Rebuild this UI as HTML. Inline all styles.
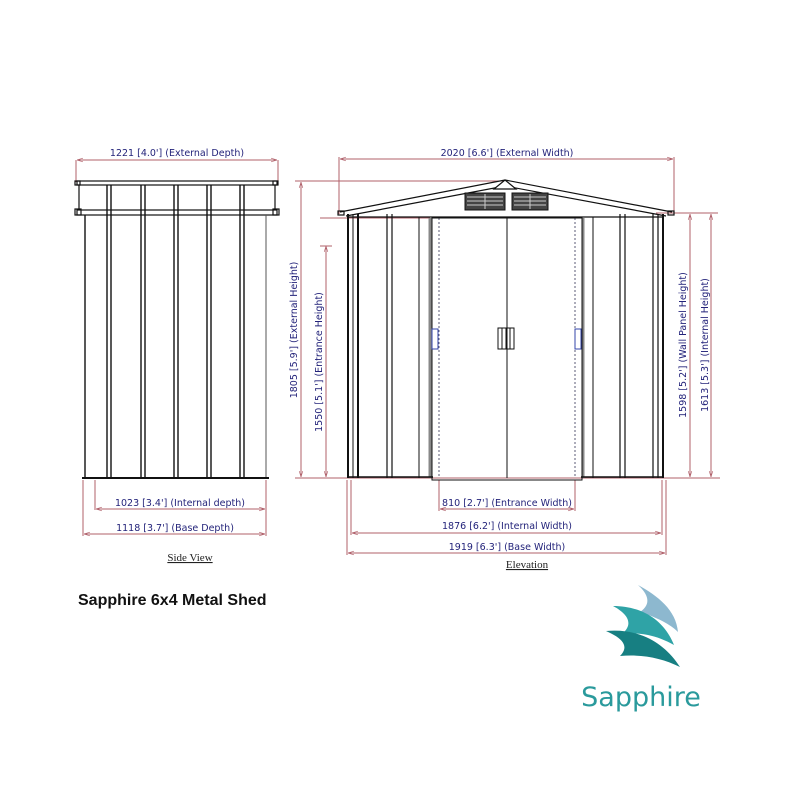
<!DOCTYPE html>
<html><head><meta charset="utf-8"><style>
html,body{margin:0;padding:0;background:#fff;}
svg{display:block;}
.d{font-family:"DejaVu Sans","Liberation Sans",sans-serif;font-size:9.5px;fill:#23237a;}
.r{stroke:#b0606a;stroke-width:1;fill:none;}
.k{stroke:#111;fill:none;}
</style></head><body>
<svg width="800" height="800" viewBox="0 0 800 800" xmlns="http://www.w3.org/2000/svg">
<defs>
<marker id="a" viewBox="0 0 10 10" refX="10" refY="5" markerWidth="6" markerHeight="6" orient="auto-start-reverse"><path d="M0,2 L10,5 L0,8" fill="none" stroke="#b0606a"/></marker>
</defs>
<!-- SIDE VIEW -->
<g class="r">
<line x1="76" y1="160" x2="76" y2="182"/><line x1="278" y1="160" x2="278" y2="182"/>
<line x1="77" y1="160" x2="277" y2="160" marker-start="url(#a)" marker-end="url(#a)"/>
<line x1="95" y1="480" x2="95" y2="510"/><line x1="266" y1="480" x2="266" y2="536"/><line x1="83" y1="480" x2="83" y2="536"/>
<line x1="96" y1="509" x2="265" y2="509" marker-start="url(#a)" marker-end="url(#a)"/>
<line x1="84" y1="534" x2="265" y2="534" marker-start="url(#a)" marker-end="url(#a)"/>
</g>
<text class="d" x="177" y="156" text-anchor="middle">1221 [4.0'] (External Depth)</text>
<text class="d" x="180" y="506" text-anchor="middle">1023 [3.4'] (Internal depth)</text>
<text class="d" x="175" y="531" text-anchor="middle">1118 [3.7'] (Base Depth)</text>
<g class="k" stroke-width="1.2">
<rect x="77" y="181" width="200" height="4"/>
<rect x="77" y="210" width="200" height="5"/>
<line x1="79" y1="185" x2="79" y2="210"/><line x1="275" y1="185" x2="275" y2="210"/>
<rect x="75" y="181" width="5" height="4"/><rect x="273" y="181" width="5" height="4"/>
<rect x="75" y="209" width="6" height="6"/><rect x="273" y="209" width="6" height="6"/>
</g>
<g stroke="#111" stroke-width="1.4">
<line x1="85" y1="215" x2="85" y2="478"/>
<line x1="107" y1="185" x2="107" y2="478"/><line x1="111" y1="185" x2="111" y2="478"/>
<line x1="141" y1="185" x2="141" y2="478"/><line x1="145" y1="185" x2="145" y2="478"/>
<line x1="174" y1="185" x2="174" y2="478"/><line x1="178" y1="185" x2="178" y2="478"/>
<line x1="207" y1="185" x2="207" y2="478"/><line x1="211" y1="185" x2="211" y2="478"/>
<line x1="240" y1="185" x2="240" y2="478"/><line x1="244" y1="185" x2="244" y2="478"/>
<line x1="266" y1="215" x2="266" y2="478" stroke="#555" stroke-width="1"/>
<line x1="82" y1="478" x2="269" y2="478" stroke-width="2"/>
</g>
<text x="190" y="561" text-anchor="middle" font-family="Liberation Serif,serif" font-size="11" fill="#222" text-decoration="underline">Side View</text>

<!-- ELEVATION -->
<g class="r">
<line x1="339" y1="157" x2="339" y2="214"/><line x1="674" y1="157" x2="674" y2="214"/>
<line x1="340" y1="159" x2="673" y2="159" marker-start="url(#a)" marker-end="url(#a)"/>
<line x1="295" y1="181" x2="505" y2="181"/>
<line x1="320" y1="218" x2="430" y2="218"/>
<line x1="656" y1="213" x2="718" y2="213"/>
<line x1="295" y1="478" x2="720" y2="478"/>
<line x1="301" y1="182" x2="301" y2="477" marker-start="url(#a)" marker-end="url(#a)"/>
<line x1="326" y1="246" x2="326" y2="477" marker-start="url(#a)" marker-end="url(#a)"/>
<line x1="320" y1="246" x2="332" y2="246"/>
<line x1="690" y1="214" x2="690" y2="477" marker-start="url(#a)" marker-end="url(#a)"/>
<line x1="711" y1="214" x2="711" y2="477" marker-start="url(#a)" marker-end="url(#a)"/>
<line x1="439" y1="480" x2="439" y2="511"/><line x1="575" y1="480" x2="575" y2="511"/>
<line x1="351" y1="480" x2="351" y2="535"/><line x1="662" y1="480" x2="662" y2="535"/>
<line x1="347" y1="480" x2="347" y2="555"/><line x1="666" y1="480" x2="666" y2="555"/>
<line x1="440" y1="509" x2="574" y2="509" marker-start="url(#a)" marker-end="url(#a)"/>
<line x1="352" y1="533" x2="661" y2="533" marker-start="url(#a)" marker-end="url(#a)"/>
<line x1="348" y1="553" x2="665" y2="553" marker-start="url(#a)" marker-end="url(#a)"/>
</g>
<text class="d" x="507" y="156" text-anchor="middle">2020 [6.6'] (External Width)</text>
<text class="d" x="507" y="506" text-anchor="middle">810 [2.7'] (Entrance Width)</text>
<text class="d" x="507" y="529" text-anchor="middle">1876 [6.2'] (Internal Width)</text>
<text class="d" x="507" y="550" text-anchor="middle">1919 [6.3'] (Base Width)</text>
<text class="d" transform="translate(297,330) rotate(-90)" text-anchor="middle">1805 [5.9'] (External Height)</text>
<text class="d" transform="translate(322,362) rotate(-90)" text-anchor="middle">1550 [5.1'] (Entrance Height)</text>
<text class="d" transform="translate(686,345) rotate(-90)" text-anchor="middle">1598 [5.2'] (Wall Panel Height)</text>
<text class="d" transform="translate(708,345) rotate(-90)" text-anchor="middle">1613 [5.3'] (Internal Height)</text>
<!-- roof -->
<g class="k" stroke-width="1.2">
<polyline points="340,212 505,180 672,212"/>
<polyline points="346,216 505,186 666,216"/>
<rect x="338" y="211" width="6" height="4"/><rect x="668" y="211" width="6" height="4"/>
<path d="M494,189 L505,180 L516,189 Z" fill="#fff"/>
<line x1="348" y1="217" x2="664" y2="217"/>
</g>
<g fill="#444" stroke="#111">
<rect x="465" y="193" width="40" height="17"/><rect x="512" y="193" width="36" height="17"/>
</g>
<g stroke="#ccc" stroke-width="1">
<line x1="467" y1="197" x2="503" y2="197"/><line x1="467" y1="201" x2="503" y2="201"/><line x1="467" y1="205" x2="503" y2="205"/>
<line x1="514" y1="197" x2="546" y2="197"/><line x1="514" y1="201" x2="546" y2="201"/><line x1="514" y1="205" x2="546" y2="205"/>
<line x1="485" y1="194" x2="485" y2="209"/><line x1="530" y1="194" x2="530" y2="209"/>
</g>
<!-- walls -->
<g stroke="#111">
<line x1="348" y1="214" x2="348" y2="478" stroke-width="2"/>
<line x1="353" y1="214" x2="353" y2="478" stroke-width="1"/>
<line x1="358" y1="214" x2="358" y2="478" stroke-width="2"/>
<line x1="387" y1="214" x2="387" y2="478" stroke-width="1.2"/>
<line x1="392" y1="214" x2="392" y2="478" stroke-width="1.2"/>
<line x1="419" y1="217" x2="419" y2="478" stroke-width="1"/>
<line x1="430" y1="218" x2="430" y2="478" stroke="#888" stroke-width="3"/>
<line x1="439" y1="218" x2="439" y2="478" stroke="#335" stroke-width="0.8" stroke-dasharray="2,2"/>
<line x1="507" y1="218" x2="507" y2="478" stroke-width="1"/>
<line x1="575" y1="218" x2="575" y2="478" stroke="#335" stroke-width="0.8" stroke-dasharray="2,2"/>
<line x1="583" y1="218" x2="583" y2="478" stroke="#888" stroke-width="3"/>
<line x1="593" y1="217" x2="593" y2="478" stroke-width="1"/>
<line x1="620" y1="214" x2="620" y2="478" stroke-width="1.2"/>
<line x1="625" y1="214" x2="625" y2="478" stroke-width="1.2"/>
<line x1="653" y1="214" x2="653" y2="478" stroke-width="1.2"/>
<line x1="658" y1="214" x2="658" y2="478" stroke-width="1.2"/>
<line x1="663" y1="214" x2="663" y2="478" stroke-width="2"/>
<line x1="348" y1="477" x2="433" y2="477" stroke-width="1.5"/>
<line x1="581" y1="477" x2="664" y2="477" stroke-width="1.5"/>
</g>
<rect x="432" y="218" width="150" height="262" fill="none" stroke="#111" stroke-width="1"/>
<g fill="none" stroke="#111" stroke-width="1">
<rect x="498" y="328" width="16" height="21"/>
<line x1="502" y1="328" x2="502" y2="349"/><line x1="506" y1="328" x2="506" y2="349"/><line x1="510" y1="328" x2="510" y2="349"/>
</g>
<g fill="none" stroke="#3344aa" stroke-width="1">
<rect x="432" y="329" width="6" height="20"/><rect x="575" y="329" width="6" height="20"/>
</g>
<text x="527" y="568" text-anchor="middle" font-family="Liberation Serif,serif" font-size="11" fill="#222" text-decoration="underline">Elevation</text>

<text x="78" y="605" font-family="Liberation Sans,sans-serif" font-weight="bold" font-size="16" fill="#111">Sapphire 6x4 Metal Shed</text>

<!-- logo -->
<path d="M638,585 C658,596 676,610 678,632 C668,622 652,616 640,612 C652,604 648,594 638,585 Z" fill="#8db8cf"/>
<path d="M613,606 C642,606 664,620 674,645 C658,636 642,632 622,634 C634,624 628,614 613,606 Z" fill="#2fa3a6"/>
<path d="M606,631 C638,628 664,642 680,667 C662,658 642,654 620,656 C630,646 622,638 606,631 Z" fill="#177f82"/>
<text x="641" y="706" text-anchor="middle" font-family="DejaVu Sans,Liberation Sans,sans-serif" font-size="27" fill="#2a9a9c">Sapphire</text>
</svg>
</body></html>
